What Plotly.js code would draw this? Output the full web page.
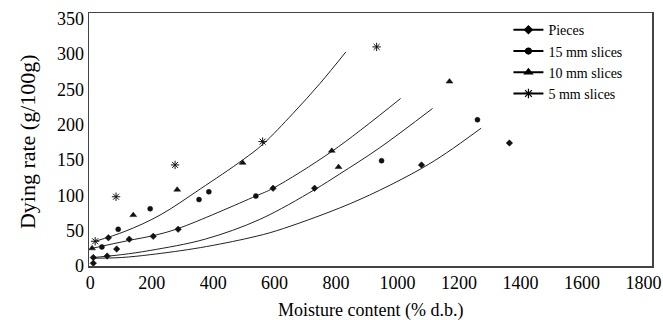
<!DOCTYPE html>
<html>
<head>
<meta charset="utf-8">
<script src="https://cdn.plot.ly/plotly-3.0.1.min.js"></script>
<style>html,body{margin:0;padding:0;background:#fff;}#chart{width:663px;height:320px;}</style>
</head>
<body>
<div id="chart"></div>
<script>
// Measured data points (Moisture content % d.b. vs Dying rate g/100g)
const piecesX = [10, 10, 55, 59, 86, 127, 205, 286, 595, 730, 1078, 1364];
const piecesY = [4, 12, 14, 40, 24, 38, 42, 52, 110, 110, 143, 174];
const mm15X = [38, 91, 195, 354, 386, 539, 948, 1260];
const mm15Y = [27, 52, 81, 94, 105, 99, 149, 207];
const mm10X = [6, 140, 283, 496, 786, 808, 1169];
const mm10Y = [25, 72, 108, 146, 163, 140, 261];
const mm5X = [16, 84, 276, 561, 932];
const mm5Y = [35, 98, 143, 176, 310];

// Fitted curves
const fitPiecesX = [10, 101, 195, 358, 520, 607, 811, 941, 1078, 1159, 1272];
const fitPiecesY = [11, 12, 16, 26, 40, 50, 82, 107, 138, 160, 195];
const fit15X = [10, 101, 195, 374, 552, 730, 811, 941, 1114];
const fit15Y = [12, 16, 22, 38, 66, 108, 130, 167, 223];
const fit10X = [6, 124, 205, 286, 539, 595, 789, 1010];
const fit10Y = [25, 36, 43, 53, 99, 110, 163, 237];
const fit5X = [16, 113, 227, 358, 496, 561, 660, 747, 832];
const fit5Y = [35, 49, 72, 109, 150, 172, 216, 258, 303];

const xTickVals = [0, 200, 400, 600, 800, 1000, 1200, 1400, 1600, 1800];
const yTickVals = [0, 50, 100, 150, 200, 250, 300, 350];
const seriesNames = ['Pieces', '15 mm slices', '10 mm slices', '5 mm slices'];

const FONT = 'Liberation Serif, Times New Roman, serif';
const symbols = ['diamond', 'circle', 'triangle-up', 'asterisk-open'];
const sizes = [5, 5, 6, 7];
const ptsX = [piecesX, mm15X, mm10X, mm5X];
const ptsY = [piecesY, mm15Y, mm10Y, mm5Y];
const fitX = [fitPiecesX, fit15X, fit10X, fit5X];
const fitY = [fitPiecesY, fit15Y, fit10Y, fit5Y];

const traces = [];
for (let i = 0; i < 4; i++) {
  traces.push({
    x: fitX[i], y: fitY[i], mode: 'lines', type: 'scatter',
    line: {color: '#222', width: 1, shape: 'spline', smoothing: 1},
    showlegend: false, hoverinfo: 'skip'
  });
}
for (let i = 0; i < 4; i++) {
  traces.push({
    x: ptsX[i], y: ptsY[i], mode: 'markers', type: 'scatter',
    marker: {symbol: symbols[i], size: sizes[i], color: '#111', line: {color: '#111', width: i === 3 ? 1 : 0.5}},
    showlegend: false, name: seriesNames[i]
  });
}
// legend entries (line + marker, as in the original legend)
for (let i = 0; i < 4; i++) {
  traces.push({
    x: [null], y: [null], mode: 'lines+markers', type: 'scatter', name: seriesNames[i],
    line: {color: '#000', width: 2},
    marker: {symbol: symbols[i], size: sizes[i] + 1, color: '#000', line: {color: '#000', width: 1.2}}
  });
}

const layout = {
  width: 663, height: 320,
  margin: {l: 89, r: 11, t: 13, b: 54},
  paper_bgcolor: '#fff', plot_bgcolor: '#fff',
  font: {family: FONT, color: '#000'},
  showlegend: true,
  legend: {
    x: 0.745, y: 0.995, xanchor: 'left', yanchor: 'top',
    font: {family: FONT, size: 14, color: '#000'},
    bgcolor: 'rgba(0,0,0,0)', borderwidth: 0, tracegroupgap: 0
  },
  xaxis: {
    range: [-4, 1828], tickvals: xTickVals, ticktext: xTickVals.map(String),
    showgrid: false, zeroline: false, showline: true, mirror: true,
    linecolor: '#444', linewidth: 1.5, ticks: '',
    tickfont: {family: FONT, size: 18, color: '#000'}
  },
  yaxis: {
    range: [0, 358], tickvals: yTickVals, ticktext: yTickVals.map(String),
    showgrid: false, zeroline: false, showline: true, mirror: true,
    linecolor: '#444', linewidth: 1.5, ticks: '',
    tickfont: {family: FONT, size: 18, color: '#000'}
  },
  annotations: [
    {text: 'Moisture content (% d.b.)', xref: 'paper', yref: 'paper', x: 0.5, y: -0.174,
     xanchor: 'center', yanchor: 'middle', showarrow: false,
     font: {family: FONT, size: 18, color: '#000'}},
    {text: 'Dying rate (g/100g)', xref: 'paper', yref: 'paper', x: -0.110, y: 0.49,
     xanchor: 'center', yanchor: 'middle', textangle: -90, showarrow: false,
     font: {family: FONT, size: 22, color: '#000'}}
  ]
};

Plotly.newPlot('chart', traces, layout, {displayModeBar: false, staticPlot: true});
</script>
</body>
</html>
